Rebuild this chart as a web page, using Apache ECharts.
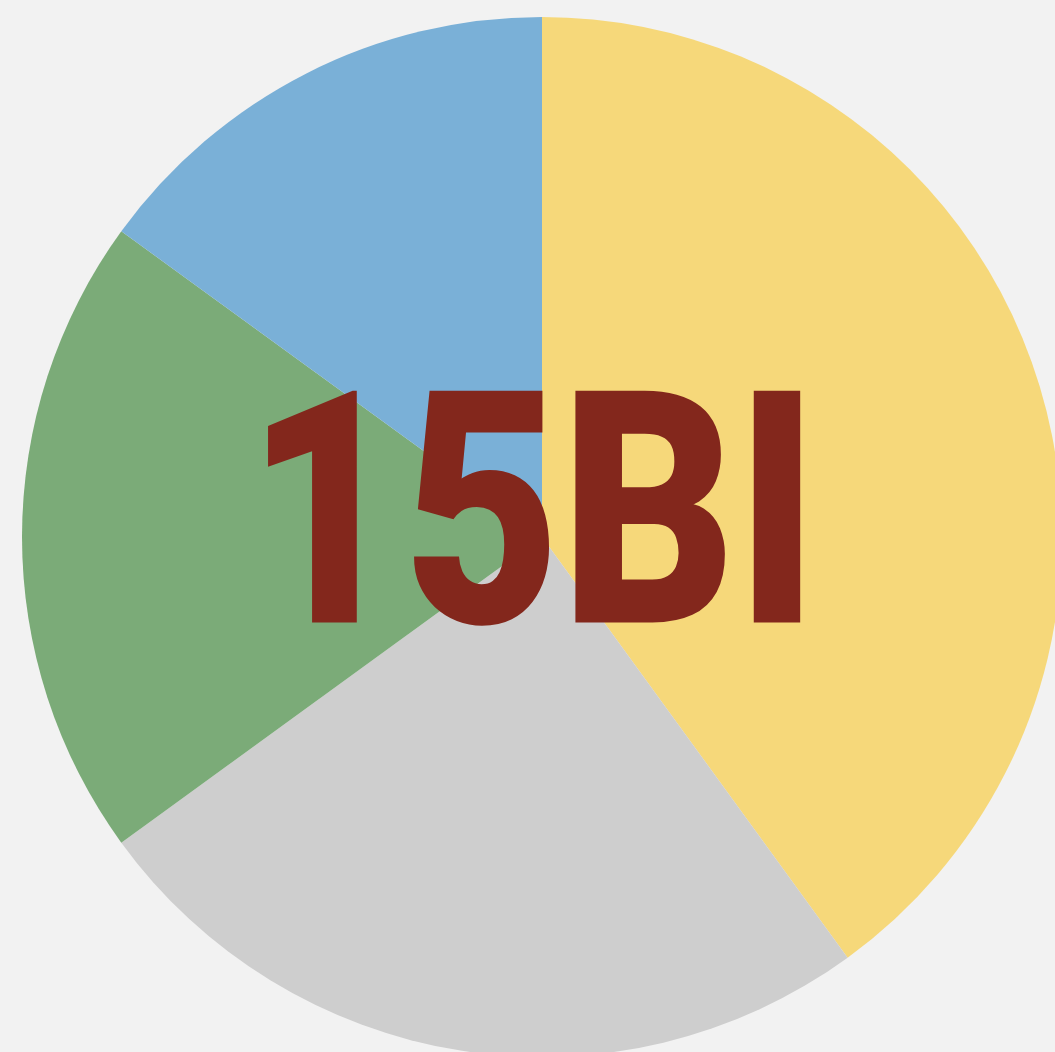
<!DOCTYPE html>
<html>
<head>
<meta charset="utf-8">
<style>
html,body{margin:0;padding:0;background:#F2F2F2;}
#chart{width:1055px;height:1052px;}
</style>
<script src="https://cdn.jsdelivr.net/npm/echarts@6/dist/echarts.min.js"></script>
</head>
<body>
<div id="chart"></div>
<script>
var categories = ['A', 'B', 'C', 'D'];
var values = [40, 25, 20, 15];
var colors = ['#F6D87A', '#CECECE', '#7BAB78', '#7AB0D7'];
var centerLabel = '15BI';

var chart = echarts.init(document.getElementById('chart'), null, {renderer: 'canvas'});
chart.setOption({
  backgroundColor: '#F2F2F2',
  animation: false,
  series: [{
    type: 'pie',
    center: [542, 537],
    radius: [0, 520],
    startAngle: 90,
    clockwise: true,
    silent: true,
    z: 1,
    label: {show: false},
    labelLine: {show: false},
    itemStyle: {borderWidth: 0},
    data: categories.map(function (c, i) {
      return {name: c, value: values[i], itemStyle: {color: colors[i]}};
    })
  }],
  graphic: {
    elements: [{
      type: 'text',
      z: 100,
      zlevel: 1,
      x: 532,
      y: 541,
      scaleX: 0.833,
      scaleY: 1,
      style: {
        text: centerLabel,
        fontFamily: 'Roboto',
        fontWeight: 900,
        fontSize: 326,
        fill: '#83271C',
        align: 'center',
        verticalAlign: 'middle'
      }
    }]
  }
});
</script>
</body>
</html>
